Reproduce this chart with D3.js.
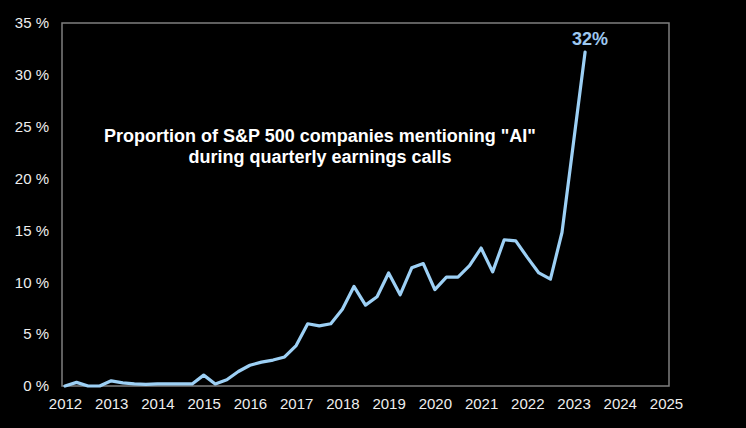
<!DOCTYPE html>
<html>
<head>
<meta charset="utf-8">
<script src="https://cdn.jsdelivr.net/npm/d3@7"></script>
<style>
  html, body { margin: 0; padding: 0; background: #000; }
  svg { display: block; }
</style>
</head>
<body>
<svg id="chart" width="746" height="428"></svg>
<script>
// Quarterly observations, 2012 Q1 .. 2023 Q2 (share of S&P 500 companies, %)
const years = [2012,2013,2014,2015,2016,2017,2018,2019,2020,2021,2022,2023];
const quarterValues = [
  [0, 0.35, 0, 0],
  [0.5, 0.3, 0.2, 0.15],
  [0.2, 0.2, 0.2, 0.2],
  [1.05, 0.2, 0.6, 1.4],
  [2.0, 2.3, 2.5, 2.8],
  [3.9, 6.0, 5.8, 6.0],
  [7.4, 9.6, 7.8, 8.6],
  [10.9, 8.8, 11.4, 11.8],
  [9.3, 10.5, 10.5, 11.6],
  [13.3, 11.0, 14.1, 14.0],
  [12.4, 10.9, 10.3, 14.8],
  [23.5, 32.2]
];
const xTicks = [2012,2013,2014,2015,2016,2017,2018,2019,2020,2021,2022,2023,2024,2025];
const yTicks = [0,5,10,15,20,25,30,35];
const titleLines = ['Proportion of S&P 500 companies mentioning "AI"', 'during quarterly earnings calls'];
const endLabel = "32%";

const data = [];
years.forEach((yr, i) => quarterValues[i].forEach((v, q) => data.push({t: yr + q * 0.25, v})));

const svg = d3.select("#chart");
const frame = {left: 62, right: 669, top: 23, bottom: 386};

const x = d3.scaleLinear().domain([2012, 2025]).range([65, 666]);
const y = d3.scaleLinear().domain([0, 35]).range([frame.bottom, frame.top]);

svg.append("rect").attr("width", 746).attr("height", 428).attr("fill", "#000");

// plot frame
svg.append("rect")
  .attr("x", frame.left).attr("y", frame.top)
  .attr("width", frame.right - frame.left).attr("height", frame.bottom - frame.top)
  .attr("fill", "none").attr("stroke", "#7f7f7f").attr("stroke-width", 1.5);

// y axis
const yAxis = svg.append("g")
  .attr("transform", `translate(${frame.left - 13},0)`)
  .call(d3.axisLeft(y).tickValues(yTicks).tickSize(0).tickPadding(0).tickFormat(d => d + " %"));
yAxis.select(".domain").remove();
yAxis.selectAll("text")
  .attr("fill", "#eeeeee")
  .style("font-family", "Arial, 'Liberation Sans', sans-serif")
  .style("font-size", "15px");

// x axis
const xAxis = svg.append("g")
  .attr("transform", `translate(0,${frame.bottom})`)
  .call(d3.axisBottom(x).tickValues(xTicks).tickSize(0).tickPadding(12).tickFormat(d3.format("d")));
xAxis.select(".domain").remove();
xAxis.selectAll("text")
  .attr("fill", "#eeeeee")
  .style("font-family", "Arial, 'Liberation Sans', sans-serif")
  .style("font-size", "15px");

// line
const line = d3.line().x(d => x(d.t)).y(d => y(d.v));
svg.append("path")
  .datum(data)
  .attr("d", line)
  .attr("fill", "none")
  .attr("stroke", "#9dd0f5")
  .attr("stroke-width", 3.2)
  .attr("stroke-linejoin", "round")
  .attr("stroke-linecap", "round");

// end label
const last = data[data.length - 1];
svg.append("text")
  .attr("x", x(last.t) + 5)
  .attr("y", y(last.v) - 7)
  .attr("text-anchor", "middle")
  .attr("fill", "#9dc8f0")
  .style("font-family", "Arial, 'Liberation Sans', sans-serif")
  .style("font-weight", "bold")
  .style("font-size", "18px")
  .text(endLabel);

// title
const title = svg.append("text")
  .attr("text-anchor", "middle")
  .attr("fill", "#ffffff")
  .style("font-family", "Arial, 'Liberation Sans', sans-serif")
  .style("font-weight", "bold")
  .style("font-size", "18px");
titleLines.forEach((s, i) => {
  title.append("tspan").attr("x", 320).attr("y", 142 + i * 21).text(s);
});
</script>
</body>
</html>
